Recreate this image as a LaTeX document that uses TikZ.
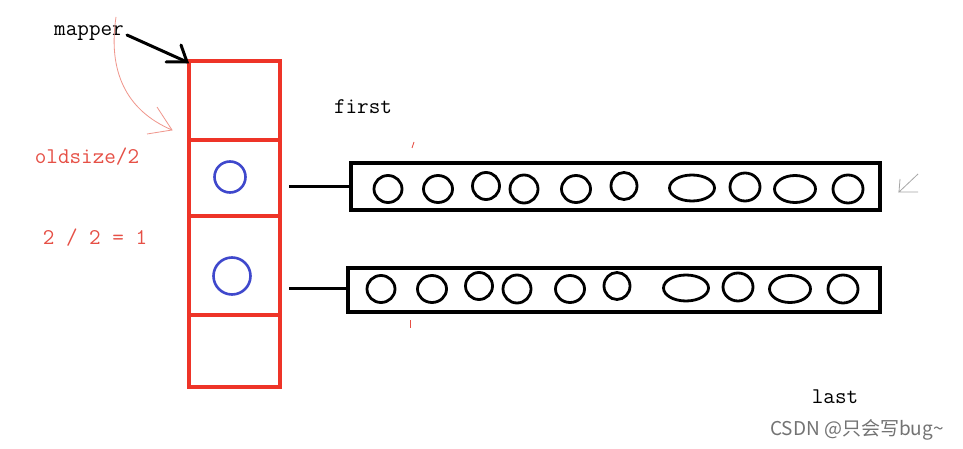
\documentclass[tikz,border=0pt]{standalone}
\usepackage{fontspec}
\newfontfamily\cjk{Noto Sans CJK SC}
\usetikzlibrary{shapes.geometric}
\definecolor{boxred}{RGB}{238,52,40}
\definecolor{txtred}{RGB}{230,80,70}
\definecolor{pinkline}{RGB}{240,150,140}
\definecolor{pblue}{RGB}{63,72,204}
\tikzset{
  cell/.style={draw=boxred, line width=3.4pt, rectangle, inner sep=0pt, minimum width=91pt},
  bluec/.style={draw=pblue, line width=2.6pt, circle, inner sep=0pt},
  bar/.style={draw=black, line width=3.4pt, rectangle, inner sep=0pt},
  dot/.style={draw=black, line width=2.8pt, ellipse, inner sep=0pt},
  lbl/.style={font=\ttfamily\fontsize{22.5}{22.5}\selectfont, inner sep=0pt},
  conn/.style={draw=black, line width=3pt},
}
\begin{document}
\begin{tikzpicture}[x=1pt,y=-1pt]
\useasboundingbox[fill=white] (0,0) rectangle (963,449);

% red column
\node[cell, minimum height=79pt] (c1) at (234.5,100.5) {};
\node[cell, minimum height=99pt] (c3) at (234.5,265.5) {};
\node[cell, minimum height=72pt] (c4) at (234.5,351) {};
\node[cell, minimum height=76pt, line width=4.4pt] (c2) at (234.5,178) {};

% blue circles
\node[bluec, minimum width=31pt, minimum height=30pt] (o1) at (230,177) {};
\node[bluec, minimum width=35pt, minimum height=37pt] (o2) at (232,276) {};

% bars
\node[bar, minimum width=529pt, minimum height=47pt] (b1) at (615.5,186.5) {};
\node[bar, minimum width=532pt, minimum height=44pt] (b2) at (614,290) {};

% connectors
\coordinate (l1) at (289,187);
\coordinate (l2) at (289,288);
\draw[conn] (l1) -- (l1 -| b1.west);
\draw[conn] (l2) -- (l2 -| b2.west);

% small circles in bar 1
\foreach \i/\x/\y/\w/\h in {1/388/189/28/27, 2/438/189/29/27, 3/486/186/27/27, 4/524/189/28/28, 5/576/189/29/27, 6/624/186/26/27, 7/692/188/45/26, 8/745/187/30/28, 9/795/189/41/27, 10/848/189/30/28}
  \node[dot, minimum width=\w pt, minimum height=\h pt] (p\i) at (\x,\y) {};
% small circles in bar 2
\foreach \i/\x/\y/\w/\h in {1/381/289/28/27, 2/432/289/29/27, 3/479/286/27/27, 4/517/289/28/28, 5/570/289/29/27, 6/617/286/26/27, 7/686/288/45/26, 8/738/287/30/28, 9/790/289/41/27, 10/843/289/30/28}
  \node[dot, minimum width=\w pt, minimum height=\h pt] (q\i) at (\x,\y) {};

% texts
\node[lbl] (mapper) at (89,33) {mapper};
\node[lbl] (first) at (363,107) {first};
\node[lbl, text=txtred] (old) at (87,157) {oldsize/2};
\node[lbl, text=txtred] (eq) at (95,238) {2 / 2 = 1};
\node[lbl] (last) at (835,397) {last};

% mapper arrow
\coordinate (mtip) at (187,62);
\draw[line width=3pt, line cap=round] (127,35) -- (mtip);
\draw[line width=3pt, line cap=round] (166,62) -- (mtip) -- (181,45);

% pink curved arrow
\coordinate (ptip) at (172,130);
\draw[pinkline, line width=0.8pt] (116,17) .. controls (108,70) and (125,110) .. (ptip);
\draw[pinkline, line width=0.8pt] (157,107) -- (ptip) -- (147,134);

% small stray marks
\draw[txtred, line width=0.9pt] (414,142) -- (412,148);
\draw[txtred, line width=0.9pt] (410,320) -- (410,328);
\draw[gray!70, line width=0.8pt] (918,174) -- (899,192) -- (918,192);
\draw[gray!70, line width=0.8pt] (900,179) -- (899,192);

% watermark
\node[font=\cjk\fontsize{19}{19}\selectfont, text=black!55, inner sep=0pt] (wm) at (857,430) {CSDN @只会写bug\textasciitilde};
\end{tikzpicture}
\end{document}
